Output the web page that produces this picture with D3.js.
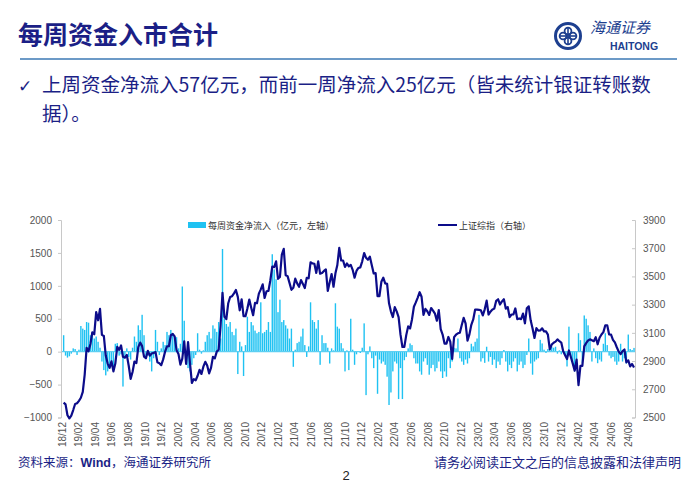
<!DOCTYPE html>
<html><head><meta charset="utf-8">
<script src="https://cdn.jsdelivr.net/npm/d3@7/dist/d3.min.js"></script>
<style>
html,body{margin:0;padding:0;background:#fff;}
svg{display:block;}
</style></head>
<body>
<svg id="c" width="700" height="484"></svg>
<script>
// ---------- DATA ----------
const firstWeek = "2018-12-07"; // weekly (Friday) observations
const tickLabels = ["18/12","19/02","19/04","19/06","19/08","19/10","19/12","20/02","20/04","20/06","20/08","20/10","20/12","21/02","21/04","21/06","21/08","21/10","21/12","22/02","22/04","22/06","22/08","22/10","22/12","23/02","23/04","23/06","23/08","23/10","23/12","24/02","24/04","24/06","24/08"];
const leftTicks = [-1000,-500,0,500,1000,1500,2000];
const rightTicks = [2500,2700,2900,3100,3300,3500,3700,3900];
// 每周资金净流入（亿元）
const inflow = [
250,-60,-90,-70,-30,50,40,-50,30,390,350,330,450,440,250,300,200,230,150,60,
-150,-280,-360,-300,-250,-200,-230,120,130,-60,-40,-530,-100,50,-80,-120,60,230,150,400,
330,560,250,-80,-60,-150,-300,-100,330,150,-50,50,150,100,300,250,330,280,200,220,
50,120,990,470,-100,-250,-300,-200,-100,-50,280,30,-30,20,150,250,300,200,400,350,
300,450,200,1560,500,420,380,450,300,250,350,-340,150,80,-370,100,530,300,450,400,
320,280,300,750,280,300,330,450,300,1480,1250,1100,600,790,450,480,400,350,200,350,
-230,30,130,150,230,350,100,-80,80,750,480,450,350,480,-200,250,130,130,60,-180,
50,20,735,380,350,130,50,-300,20,-280,500,30,-200,-40,10,-20,60,430,-660,-40,
80,-100,-250,-60,-640,-120,-180,-150,-200,-380,-810,-620,-300,-150,-180,-720,-250,-720,-130,-80,
50,125,100,-100,-180,-180,-300,-350,-150,-100,-200,-350,-250,-200,-300,-250,-150,-300,-400,-300,
-380,-100,-250,-150,60,50,200,-100,-150,-200,-120,-180,-100,120,80,150,200,560,-150,-100,
-170,75,-150,-80,-200,-120,-250,-150,-200,-100,25,-150,-300,-200,-250,-150,-100,-300,-200,-150,
-250,-200,-50,200,-180,-350,-150,-120,-100,180,125,30,-20,40,20,75,60,75,-30,20,
-40,30,-50,-225,380,-100,-200,-300,-150,280,175,-175,550,500,400,300,-150,50,-100,-175,
-120,-150,120,280,100,-60,-100,-80,-150,-200,-150,120,-150,-100,-180,260,40,25,57];
// 上证综指（周收盘）
const sse = [
2605,2593,2516,2494,2514,2553,2596,2601,2618,2640,2682,2804,2994,2969,3021,3104,3090,3247,3189,3270,
3086,3078,2939,2882,2852,2898,2827,2882,3001,2979,3011,2930,2924,2944,2867,2774,2823,2897,2886,2999,
3031,3006,2932,2920,2973,2938,2954,2958,2964,2891,2885,2871,2912,2967,3004,3005,3083,3092,3075,2976,
2950,2875,2917,3039,2880,3034,2887,2745,2772,2764,2796,2838,2809,2860,2895,2868,2813,2852,2930,2920,
2967,2980,3152,3383,3214,3197,3310,3354,3360,3380,3404,3355,3260,3338,3219,3218,3272,3336,3278,3225,
3312,3310,3378,3408,3444,3347,3395,3397,3473,3570,3566,3607,3483,3496,3655,3696,3509,3502,3454,3405,
3419,3484,3451,3427,3474,3447,3418,3490,3487,3600,3592,3590,3525,3607,3519,3524,3539,3550,3397,3458,
3517,3427,3522,3581,3703,3613,3613,3568,3592,3572,3582,3547,3491,3539,3560,3564,3607,3666,3632,3618,
3640,3580,3521,3523,3361,3361,3462,3491,3451,3447,3309,3251,3212,3282,3252,3211,3087,3000,3001,3084,
3146,3131,3195,3285,3316,3350,3388,3356,3228,3270,3253,3227,3276,3258,3236,3186,3262,3126,3088,3024,
3024,3071,3038,2915,3070,3087,3097,3101,3156,3206,3167,3045,3089,3157,3195,3265,3265,3263,3260,3224,
3267,3328,3230,3250,3265,3273,3327,3338,3301,3323,3338,3272,3283,3212,3230,3231,3273,3197,3202,3197,
3237,3168,3275,3288,3189,3131,3064,3133,3116,3117,3132,3110,3110,3088,2983,3017,3030,3038,3054,3041,
3031,2969,2942,2914,2975,2929,2882,2832,2910,2730,2866,2866,3004,3027,3046,3054,3048,3041,3069,3019,
3065,3088,3105,3154,3154,3089,3087,3051,3032,2998,2967,2949,2971,2982,2891,2905,2862,2879,2854];
const seriesNames = ["每周资金净流入（亿元，左轴）","上证综指（右轴）"];

// ---------- CHART ----------
const svg = d3.select("#c");
const navy = "#1b1f86";
const cjk = "'Noto Sans CJK SC','Noto Sans',sans-serif";
const latin = "'Liberation Sans',Arial,sans-serif";

// header
svg.append("text").attr("x",18).attr("y",44).attr("font-family",cjk).attr("font-size",25)
  .attr("font-weight",700).attr("fill",navy).text("每周资金入市合计");
svg.append("line").attr("x1",20).attr("x2",677).attr("y1",59).attr("y2",59)
  .attr("stroke","#3b78b5").attr("stroke-width",1.6);

// logo
const lg = svg.append("g").attr("transform","translate(568,36)");
lg.append("circle").attr("r",12.5).attr("fill","none").attr("stroke","#1d3f8f").attr("stroke-width",3);
[[0,-5],[0,5],[-5,0],[5,0]].forEach(p=>lg.append("circle").attr("cx",p[0]).attr("cy",p[1]).attr("r",3.4)
  .attr("fill","none").attr("stroke","#1d3f8f").attr("stroke-width",1.8));
lg.append("line").attr("x1",-9).attr("x2",9).attr("y1",0).attr("y2",0).attr("stroke","#1d3f8f").attr("stroke-width",1.6);
lg.append("line").attr("y1",-9).attr("y2",9).attr("x1",0).attr("x2",0).attr("stroke","#1d3f8f").attr("stroke-width",1.6);
svg.append("text").attr("x",590).attr("y",33).attr("font-family",cjk).attr("font-size",15).attr("font-style","italic")
  .attr("fill","#1d3f8f").text("海通证券");
svg.append("text").attr("x",634).attr("y",50).attr("text-anchor","middle").attr("font-family",latin).attr("font-size",10.5)
  .attr("font-weight",700).attr("fill","#1d3f8f").text("HAITONG");

// bullet text (wrapped into two lines)
svg.append("text").attr("x",18).attr("y",92).attr("font-family","'DejaVu Sans',sans-serif").attr("font-size",17)
  .attr("fill",navy).text("✓");
const bt = svg.append("text").attr("font-family",cjk).attr("font-size",19.5).attr("fill",navy);
bt.append("tspan").attr("x",42).attr("y",92).text("上周资金净流入57亿元，而前一周净流入25亿元（皆未统计银证转账数");
bt.append("tspan").attr("x",42).attr("y",121).text("据）。");

// scales
const parseW = d3.timeParse("%Y-%m-%d");
const start = parseW(firstWeek);
const dates = inflow.map((_,i)=>d3.timeDay.offset(start,7*i));
const parseT = d3.timeParse("%y/%m");
const tickDates = tickLabels.map(parseT);
const x = d3.scaleTime().domain([tickDates[0], tickDates[tickDates.length-1]]).range([62,628]);
const yL = d3.scaleLinear().domain([-1000,2000]).range([417.5,220]);
const yR = d3.scaleLinear().domain([2500,3900]).range([417.5,220]);

// bars
const barColor = "#1fc2f2";
svg.append("g").selectAll("rect").data(inflow).join("rect")
  .attr("x",(d,i)=>x(dates[i])-0.7).attr("width",1.4)
  .attr("y",d=>yL(Math.max(0,d))).attr("height",d=>Math.abs(yL(d)-yL(0)))
  .attr("fill",barColor);
// zero line
svg.append("line").attr("x1",62).attr("x2",635).attr("y1",yL(0)).attr("y2",yL(0))
  .attr("stroke","#5ccff2").attr("stroke-width",1.2);

// line
const line = d3.line().x((d,i)=>x(dates[i])).y(d=>yR(d));
svg.append("path").datum(sse).attr("d",line).attr("fill","none").attr("stroke","#0c0c8a")
  .attr("stroke-width",2.2).attr("stroke-linejoin","round");

// axes
const fmt = d3.format("d");
const axL = svg.append("g").attr("transform","translate(61,0)")
  .call(d3.axisLeft(yL).tickValues(leftTicks).tickFormat(fmt).tickSize(3).tickPadding(6));
const axR = svg.append("g").attr("transform","translate(635,0)")
  .call(d3.axisRight(yR).tickValues(rightTicks).tickFormat(fmt).tickSize(-3).tickPadding(8));
[axL,axR].forEach(a=>{
  a.select(".domain").attr("stroke","#c8c8c8");
  a.selectAll(".tick line").attr("stroke","#c8c8c8");
  a.selectAll("text").attr("font-family",latin).attr("font-size",10).attr("fill","#555");
});
// x labels
const axX = svg.append("g");
axX.selectAll("text").data(tickDates).join("text")
  .attr("transform",d=>`translate(${x(d)},422) rotate(-90)`)
  .attr("text-anchor","end").attr("dy","0.35em")
  .attr("font-family",latin).attr("font-size",10).attr("fill","#555")
  .text((d,i)=>tickLabels[i]);

// legend
const lgd = svg.append("g");
lgd.append("rect").attr("x",188).attr("y",222).attr("width",18).attr("height",6).attr("fill",barColor);
lgd.append("text").attr("x",208).attr("y",228.5).attr("font-family",cjk).attr("font-size",9).attr("fill","#333").text(seriesNames[0]);
lgd.append("line").attr("x1",438).attr("x2",457).attr("y1",225).attr("y2",225).attr("stroke","#0c0c8a").attr("stroke-width",2);
lgd.append("text").attr("x",459).attr("y",228.5).attr("font-family",cjk).attr("font-size",9).attr("fill","#333").text(seriesNames[1]);

// footer
const f1 = svg.append("text").attr("x",18).attr("y",467).attr("font-family",cjk).attr("font-size",12.5).attr("fill",navy);
f1.append("tspan").text("资料来源：");
f1.append("tspan").attr("font-family",latin).attr("font-weight",700).text("Wind");
f1.append("tspan").text("，海通证券研究所");
svg.append("text").attr("x",681).attr("y",467).attr("text-anchor","end").attr("font-family",cjk).attr("font-size",13)
  .attr("fill",navy).text("请务必阅读正文之后的信息披露和法律声明");
svg.append("text").attr("x",346).attr("y",480).attr("text-anchor","middle").attr("font-family",latin).attr("font-size",13)
  .attr("fill","#222").text("2");
</script>
</body></html>
